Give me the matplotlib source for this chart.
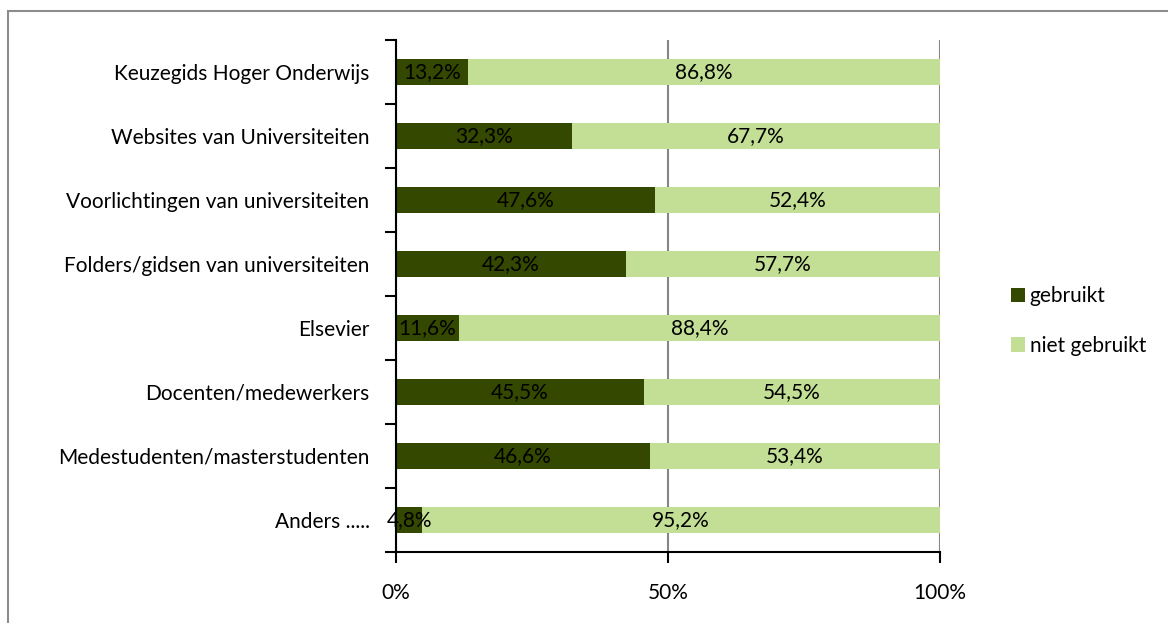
import numpy as np
import matplotlib.pyplot as plt
from matplotlib.patches import Rectangle, Patch

categories = ["Keuzegids Hoger Onderwijs", "Websites van Universiteiten",
              "Voorlichtingen van universiteiten", "Folders/gidsen van universiteiten",
              "Elsevier", "Docenten/medewerkers", "Medestudenten/masterstudenten",
              "Anders ....."]
gebruikt = [13.2, 32.3, 47.6, 42.3, 11.6, 45.5, 46.6, 4.8]
niet_gebruikt = [86.8, 67.7, 52.4, 57.7, 88.4, 54.5, 53.4, 95.2]
xticks = [0, 50, 100]
xticklabels = ["0%", "50%", "100%"]

DARK, LIGHT = "#344800", "#C2DF95"
FS = 15
plt.rcParams.update({"font.family": ["Lato", "DejaVu Sans"], "font.size": FS})

W, H = 1168, 623
fig = plt.figure(figsize=(W / 100, H / 100), dpi=100)
ax = fig.add_axes([396 / W, 1 - 552 / H, 544 / W, 512 / H])

# chart border (light gray, cropped at right/bottom)
fig.patches.append(Rectangle((8 / W, -0.1), 1.2, 1 - 11 / H + 0.1, transform=fig.transFigure,
                             fill=False, edgecolor="#8c8c8c", lw=1.5, zorder=0))

y = np.arange(len(categories))
ax.barh(y, gebruikt, height=0.4, color=DARK, zorder=3)
ax.barh(y, niet_gebruikt, left=gebruikt, height=0.4, color=LIGHT, zorder=3)

for i, (g, n) in enumerate(zip(gebruikt, niet_gebruikt)):
    ax.text(g / 2, i, f"{g:.1f}%".replace(".", ","), ha="center", va="center", fontsize=FS, zorder=4)
    ax.text(g + n / 2, i, f"{n:.1f}%".replace(".", ","), ha="center", va="center", fontsize=FS, zorder=4)

ax.set_xlim(0, 100)
ax.set_ylim(len(categories) - 0.5, -0.5)
ax.set_yticks(y)
ax.set_yticklabels(categories)
ax.set_yticks(np.arange(len(categories) + 1) - 0.5, minor=True)
ax.tick_params(axis="y", which="major", length=0, pad=19)
ax.tick_params(axis="y", which="minor", length=8, width=1.5, direction="out")
ax.set_xticks(xticks)
ax.set_xticklabels(xticklabels)
ax.tick_params(axis="x", length=8, width=1.5, direction="out", pad=14)
ax.grid(axis="x", color="#868686", lw=1.5, zorder=1)
for s in ["top", "right"]:
    ax.spines[s].set_visible(False)
for s in ["left", "bottom"]:
    ax.spines[s].set_linewidth(1.5)
    ax.spines[s].set_zorder(5)

handles = [Patch(facecolor=DARK), Patch(facecolor=LIGHT)]
fig.legend(handles, ["gebruikt", "niet gebruikt"], loc="center left",
           bbox_to_anchor=(992 / W, 1 - 321 / H), frameon=False, fontsize=FS,
           handlelength=0.7, handleheight=0.7, handletextpad=0.2, labelspacing=1.4)

fig.savefig("out.png", dpi=100)
